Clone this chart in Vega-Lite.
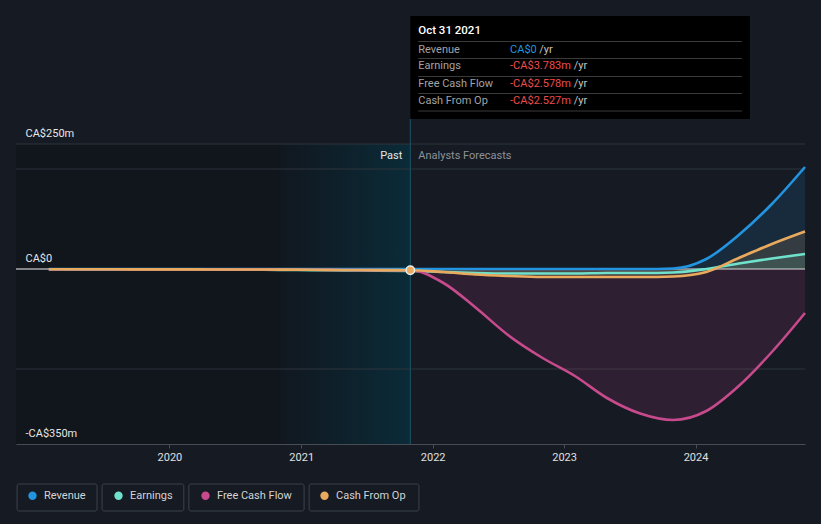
{
  "$schema": "https://vega.github.io/schema/vega-lite/v6.json",
  "width": 789,
  "height": 428,
  "autosize": {"type": "none"},
  "padding": {"left": 16, "top": 16, "right": 16, "bottom": 80},
  "background": "#151a23",
  "config": {
    "view": {"stroke": null},
    "font": "Roboto",
    "axisX": {"domainColor": "#474c55", "domainWidth": 1, "tickColor": "#474c55", "tickSize": 4, "labelColor": "#e0e0e0", "labelFontSize": 11, "labelPadding": 3, "grid": false, "title": null, "format": "%Y"},
    "axisY": {"domain": false, "ticks": false, "tickSize": 0, "grid": false, "title": null, "labelColor": "#e6e6e6", "labelFontSize": 11, "labelAlign": "left", "labelBaseline": "bottom", "labelPadding": -9, "labelOffset": -6}
  },
  "datasets": {
    "series": [
      {"date": "2019-01-31", "series": "Revenue", "value": 0},
      {"date": "2019-04-30", "series": "Revenue", "value": 0},
      {"date": "2019-07-31", "series": "Revenue", "value": 0},
      {"date": "2019-10-31", "series": "Revenue", "value": 0},
      {"date": "2020-01-31", "series": "Revenue", "value": 0},
      {"date": "2020-04-30", "series": "Revenue", "value": 0},
      {"date": "2020-07-31", "series": "Revenue", "value": 0},
      {"date": "2020-10-31", "series": "Revenue", "value": 0},
      {"date": "2021-01-31", "series": "Revenue", "value": 0},
      {"date": "2021-04-30", "series": "Revenue", "value": 0},
      {"date": "2021-07-31", "series": "Revenue", "value": 0},
      {"date": "2021-10-31", "series": "Revenue", "value": 0},
      {"date": "2022-01-31", "series": "Revenue", "value": 0},
      {"date": "2022-04-30", "series": "Revenue", "value": 0},
      {"date": "2022-07-31", "series": "Revenue", "value": 0},
      {"date": "2022-10-31", "series": "Revenue", "value": 0},
      {"date": "2023-01-31", "series": "Revenue", "value": 0},
      {"date": "2023-04-30", "series": "Revenue", "value": 0},
      {"date": "2023-07-31", "series": "Revenue", "value": 0},
      {"date": "2023-10-31", "series": "Revenue", "value": 1},
      {"date": "2024-01-31", "series": "Revenue", "value": 20},
      {"date": "2024-04-30", "series": "Revenue", "value": 68},
      {"date": "2024-07-31", "series": "Revenue", "value": 130},
      {"date": "2024-10-31", "series": "Revenue", "value": 204},
      {"date": "2019-01-31", "series": "Earnings", "value": -0.6},
      {"date": "2019-04-30", "series": "Earnings", "value": -0.7},
      {"date": "2019-07-31", "series": "Earnings", "value": -0.9},
      {"date": "2019-10-31", "series": "Earnings", "value": -1.0},
      {"date": "2020-01-31", "series": "Earnings", "value": -1.1},
      {"date": "2020-04-30", "series": "Earnings", "value": -1.2},
      {"date": "2020-07-31", "series": "Earnings", "value": -1.4},
      {"date": "2020-10-31", "series": "Earnings", "value": -1.7},
      {"date": "2021-01-31", "series": "Earnings", "value": -2.2},
      {"date": "2021-04-30", "series": "Earnings", "value": -2.8},
      {"date": "2021-07-31", "series": "Earnings", "value": -3.3},
      {"date": "2021-10-31", "series": "Earnings", "value": -3.783},
      {"date": "2022-01-31", "series": "Earnings", "value": -6},
      {"date": "2022-04-30", "series": "Earnings", "value": -8},
      {"date": "2022-07-31", "series": "Earnings", "value": -9},
      {"date": "2022-10-31", "series": "Earnings", "value": -9},
      {"date": "2023-01-31", "series": "Earnings", "value": -9},
      {"date": "2023-04-30", "series": "Earnings", "value": -8},
      {"date": "2023-07-31", "series": "Earnings", "value": -8},
      {"date": "2023-10-31", "series": "Earnings", "value": -7},
      {"date": "2024-01-31", "series": "Earnings", "value": 0},
      {"date": "2024-04-30", "series": "Earnings", "value": 11},
      {"date": "2024-07-31", "series": "Earnings", "value": 21},
      {"date": "2024-10-31", "series": "Earnings", "value": 30},
      {"date": "2019-01-31", "series": "Free Cash Flow", "value": -0.4},
      {"date": "2019-04-30", "series": "Free Cash Flow", "value": -0.5},
      {"date": "2019-07-31", "series": "Free Cash Flow", "value": -0.6},
      {"date": "2019-10-31", "series": "Free Cash Flow", "value": -0.7},
      {"date": "2020-01-31", "series": "Free Cash Flow", "value": -0.8},
      {"date": "2020-04-30", "series": "Free Cash Flow", "value": -0.9},
      {"date": "2020-07-31", "series": "Free Cash Flow", "value": -1.0},
      {"date": "2020-10-31", "series": "Free Cash Flow", "value": -1.2},
      {"date": "2021-01-31", "series": "Free Cash Flow", "value": -1.6},
      {"date": "2021-04-30", "series": "Free Cash Flow", "value": -2.0},
      {"date": "2021-07-31", "series": "Free Cash Flow", "value": -2.3},
      {"date": "2021-10-31", "series": "Free Cash Flow", "value": -2.578},
      {"date": "2022-01-31", "series": "Free Cash Flow", "value": -28},
      {"date": "2022-04-30", "series": "Free Cash Flow", "value": -77},
      {"date": "2022-07-31", "series": "Free Cash Flow", "value": -133},
      {"date": "2022-10-31", "series": "Free Cash Flow", "value": -177},
      {"date": "2023-01-31", "series": "Free Cash Flow", "value": -214},
      {"date": "2023-04-30", "series": "Free Cash Flow", "value": -258},
      {"date": "2023-07-31", "series": "Free Cash Flow", "value": -289},
      {"date": "2023-10-31", "series": "Free Cash Flow", "value": -302},
      {"date": "2024-01-31", "series": "Free Cash Flow", "value": -284},
      {"date": "2024-04-30", "series": "Free Cash Flow", "value": -234},
      {"date": "2024-07-31", "series": "Free Cash Flow", "value": -166},
      {"date": "2024-10-31", "series": "Free Cash Flow", "value": -88},
      {"date": "2019-01-31", "series": "Cash From Op", "value": -0.4},
      {"date": "2019-04-30", "series": "Cash From Op", "value": -0.5},
      {"date": "2019-07-31", "series": "Cash From Op", "value": -0.6},
      {"date": "2019-10-31", "series": "Cash From Op", "value": -0.7},
      {"date": "2020-01-31", "series": "Cash From Op", "value": -0.8},
      {"date": "2020-04-30", "series": "Cash From Op", "value": -0.9},
      {"date": "2020-07-31", "series": "Cash From Op", "value": -1.0},
      {"date": "2020-10-31", "series": "Cash From Op", "value": -1.2},
      {"date": "2021-01-31", "series": "Cash From Op", "value": -1.5},
      {"date": "2021-04-30", "series": "Cash From Op", "value": -1.9},
      {"date": "2021-07-31", "series": "Cash From Op", "value": -2.2},
      {"date": "2021-10-31", "series": "Cash From Op", "value": -2.527},
      {"date": "2022-01-31", "series": "Cash From Op", "value": -6},
      {"date": "2022-04-30", "series": "Cash From Op", "value": -11},
      {"date": "2022-07-31", "series": "Cash From Op", "value": -14},
      {"date": "2022-10-31", "series": "Cash From Op", "value": -16},
      {"date": "2023-01-31", "series": "Cash From Op", "value": -16},
      {"date": "2023-04-30", "series": "Cash From Op", "value": -16},
      {"date": "2023-07-31", "series": "Cash From Op", "value": -16},
      {"date": "2023-10-31", "series": "Cash From Op", "value": -15},
      {"date": "2024-01-31", "series": "Cash From Op", "value": -6},
      {"date": "2024-04-30", "series": "Cash From Op", "value": 22},
      {"date": "2024-07-31", "series": "Cash From Op", "value": 50},
      {"date": "2024-10-31", "series": "Cash From Op", "value": 75}
    ]
  },
  "layer": [
    {
      "data": {"values": [{"start": "2018-11-01", "end": "2020-10-31", "low": -350, "high": 250}]},
      "mark": {"type": "rect", "fill": "#11151c"},
      "encoding": {
        "x": {"field": "start", "type": "temporal", "title": null},
        "x2": {"field": "end"},
        "y": {"field": "low", "type": "quantitative", "title": null},
        "y2": {"field": "high"}
      }
    },
    {
      "data": {"values": [{"start": "2020-10-31", "end": "2021-10-31", "low": -350, "high": 250}]},
      "mark": {"type": "rect", "fill": {"gradient": "linear", "x1": 0, "x2": 1, "y1": 0, "y2": 0, "stops": [{"offset": 0, "color": "#11171f"}, {"offset": 1, "color": "#0a2b38"}]}},
      "encoding": {
        "x": {"field": "start", "type": "temporal", "title": null},
        "x2": {"field": "end"},
        "y": {"field": "low", "type": "quantitative", "title": null},
        "y2": {"field": "high"}
      }
    },
    {
      "data": {"values": [{"v": 250}, {"v": 200}, {"v": -200}]},
      "mark": {"type": "rule", "stroke": "#2f343d", "strokeWidth": 1},
      "encoding": {"y": {"field": "v", "type": "quantitative", "title": null}}
    },
    {
      "data": {"values": [{"v": 0}]},
      "mark": {"type": "rule", "stroke": "#f2f2f2", "strokeWidth": 1.2},
      "encoding": {"y": {"field": "v", "type": "quantitative", "title": null}}
    },
    {
      "data": {"values": [{"d": "2021-10-31", "low": -350, "high": 300}]},
      "mark": {"type": "rule", "stroke": "#1b5468", "strokeWidth": 1},
      "encoding": {
        "x": {"field": "d", "type": "temporal", "title": null},
        "y": {"field": "low", "type": "quantitative", "title": null},
        "y2": {"field": "high"}
      }
    },
    {
      "data": {"name": "series"},
      "mark": {"type": "area", "interpolate": "monotone", "fillOpacity": 0.14},
      "encoding": {
        "x": {"field": "date", "type": "temporal", "title": null},
        "y": {"field": "value", "type": "quantitative", "stack": null, "title": null},
        "y2": {"datum": 0},
        "color": {"field": "series", "type": "nominal", "sort": ["Revenue", "Earnings", "Free Cash Flow", "Cash From Op"]}
      }
    },
    {
      "data": {"name": "series"},
      "mark": {"type": "line", "interpolate": "monotone", "strokeWidth": 2.6},
      "encoding": {
        "x": {
          "field": "date", "type": "temporal", "title": null,
          "scale": {"domain": [{"year": 2018, "month": 11, "date": 1}, {"year": 2024, "month": 10, "date": 31}]},
          "axis": {"zindex": 1, "values": [{"year": 2020, "month": 1, "date": 1}, {"year": 2021, "month": 1, "date": 1}, {"year": 2022, "month": 1, "date": 1}, {"year": 2023, "month": 1, "date": 1}, {"year": 2024, "month": 1, "date": 1}]}
        },
        "y": {
          "field": "value", "type": "quantitative", "title": null,
          "scale": {"domain": [-350, 506], "nice": false, "zero": false},
          "axis": {"zindex": 2, "values": [-350, 0, 250], "labelExpr": "datum.value == 0 ? 'CA$0' : (datum.value < 0 ? '-CA$' + abs(datum.value) + 'm' : 'CA$' + datum.value + 'm')"}
        },
        "color": {
          "field": "series", "type": "nominal",
          "sort": ["Revenue", "Earnings", "Free Cash Flow", "Cash From Op"],
          "scale": {"domain": ["Revenue", "Earnings", "Free Cash Flow", "Cash From Op"], "range": ["#2394df", "#6fe2cb", "#c64a8c", "#e9aa5e"]},
          "legend": {
            "title": null, "orient": "none", "legendX": 11, "legendY": 474, "direction": "horizontal",
            "symbolType": "circle", "symbolSize": 70, "symbolStrokeWidth": 0, "symbolOpacity": 1,
            "labelColor": "#d4d4d4", "labelFontSize": 11, "labelOffset": 6, "columnPadding": 27, "padding": 0
          }
        }
      }
    },
    {
      "data": {"values": [
        {"a": "2018-11-04", "b": "2019-06-14", "lo": -430, "hi": -484},
        {"a": "2019-06-28", "b": "2020-02-10", "lo": -430, "hi": -484},
        {"a": "2020-02-24", "b": "2021-01-09", "lo": -430, "hi": -484},
        {"a": "2021-01-23", "b": "2021-11-24", "lo": -430, "hi": -484}
      ]},
      "mark": {"type": "rect", "fill": "#151a23", "fillOpacity": 0, "stroke": "#3d424b", "strokeWidth": 1, "cornerRadius": 2},
      "encoding": {
        "x": {"field": "a", "type": "temporal", "title": null},
        "x2": {"field": "b"},
        "y": {"field": "lo", "type": "quantitative", "title": null},
        "y2": {"field": "hi"}
      }
    },
    {
      "data": {"values": [{"d": "2021-10-31", "v": -2.527}]},
      "mark": {"type": "point", "filled": true, "fill": "#e9aa5e", "stroke": "#e6edf0", "strokeWidth": 1.5, "size": 70, "opacity": 1},
      "encoding": {
        "x": {"field": "d", "type": "temporal", "title": null},
        "y": {"field": "v", "type": "quantitative", "title": null}
      }
    },
    {
      "data": {"values": [{"d": "2021-10-31", "v": 226, "t": "Past"}]},
      "mark": {"type": "text", "align": "right", "baseline": "middle", "dx": -8, "fontSize": 11, "color": "#e6e6e6"},
      "encoding": {
        "x": {"field": "d", "type": "temporal", "title": null},
        "y": {"field": "v", "type": "quantitative", "title": null},
        "text": {"field": "t"}
      }
    },
    {
      "data": {"values": [{"d": "2021-10-31", "v": 226, "t": "Analysts Forecasts"}]},
      "mark": {"type": "text", "align": "left", "baseline": "middle", "dx": 8, "fontSize": 11, "color": "#8d929a"},
      "encoding": {
        "x": {"field": "d", "type": "temporal", "title": null},
        "y": {"field": "v", "type": "quantitative", "title": null},
        "text": {"field": "t"}
      }
    },
    {
      "data": {"values": [{"start": "2021-10-31", "end": "2024-05-31", "low": 300, "high": 506}]},
      "mark": {"type": "rect", "fill": "#000000"},
      "encoding": {
        "x": {"field": "start", "type": "temporal", "title": null},
        "x2": {"field": "end"},
        "y": {"field": "low", "type": "quantitative", "title": null},
        "y2": {"field": "high"}
      }
    },
    {
      "data": {"values": [{"v": 455}, {"v": 421}, {"v": 385}, {"v": 351}, {"v": 316}]},
      "mark": {"type": "rule", "stroke": "#3a3a3a", "strokeWidth": 1},
      "encoding": {
        "x": {"datum": {"year": 2021, "month": 11, "date": 22}, "type": "temporal"},
        "x2": {"datum": {"year": 2024, "month": 5, "date": 9}},
        "y": {"field": "v", "type": "quantitative", "title": null}
      }
    },
    {
      "data": {"values": [{"d": "2021-11-22", "v": 476, "t": "Oct 31 2021"}]},
      "mark": {"type": "text", "align": "left", "baseline": "middle", "fontSize": 11.5, "fontWeight": 500, "color": "#ffffff"},
      "encoding": {
        "x": {"field": "d", "type": "temporal", "title": null},
        "y": {"field": "v", "type": "quantitative", "title": null},
        "text": {"field": "t"}
      }
    },
    {
      "data": {"values": [
        {"d": "2021-11-22", "v": 439, "t": "Revenue"},
        {"d": "2021-11-22", "v": 406, "t": "Earnings"},
        {"d": "2021-11-22", "v": 370, "t": "Free Cash Flow"},
        {"d": "2021-11-22", "v": 336, "t": "Cash From Op"}
      ]},
      "mark": {"type": "text", "align": "left", "baseline": "middle", "fontSize": 11, "color": "#a3a3a3"},
      "encoding": {
        "x": {"field": "d", "type": "temporal", "title": null},
        "y": {"field": "v", "type": "quantitative", "title": null},
        "text": {"field": "t"}
      }
    },
    {
      "data": {"values": [{"d": "2022-08-04", "v": 439, "t": "CA$0"}]},
      "mark": {"type": "text", "align": "left", "baseline": "middle", "fontSize": 11, "color": "#2394df"},
      "encoding": {
        "x": {"field": "d", "type": "temporal", "title": null},
        "y": {"field": "v", "type": "quantitative", "title": null},
        "text": {"field": "t"}
      }
    },
    {
      "data": {"values": [
        {"d": "2022-08-04", "v": 406, "t": "-CA$3.783m"},
        {"d": "2022-08-04", "v": 370, "t": "-CA$2.578m"},
        {"d": "2022-08-04", "v": 336, "t": "-CA$2.527m"}
      ]},
      "mark": {"type": "text", "align": "left", "baseline": "middle", "fontSize": 11, "color": "#ee4b4b"},
      "encoding": {
        "x": {"field": "d", "type": "temporal", "title": null},
        "y": {"field": "v", "type": "quantitative", "title": null},
        "text": {"field": "t"}
      }
    },
    {
      "data": {"values": [
        {"d": "2022-10-24", "v": 439, "t": "/yr"},
        {"d": "2023-01-28", "v": 406, "t": "/yr"},
        {"d": "2023-01-28", "v": 370, "t": "/yr"},
        {"d": "2023-01-28", "v": 336, "t": "/yr"}
      ]},
      "mark": {"type": "text", "align": "left", "baseline": "middle", "fontSize": 11, "color": "#c4c4c4"},
      "encoding": {
        "x": {"field": "d", "type": "temporal", "title": null},
        "y": {"field": "v", "type": "quantitative", "title": null},
        "text": {"field": "t"}
      }
    }
  ]
}
